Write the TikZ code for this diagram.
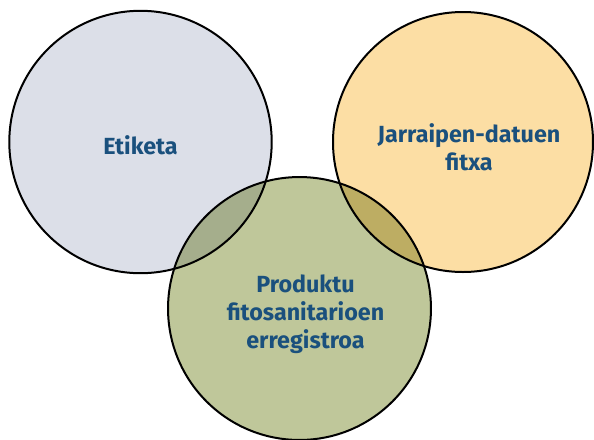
\documentclass[tikz,border=0pt]{standalone}
\usepackage{fontspec}
\setmainfont{Fira Sans}
\definecolor{txtblue}{RGB}{26,80,125}
\definecolor{cgrey}{RGB}{220,223,232}
\definecolor{corange}{RGB}{252,222,164}
\definecolor{cgreen}{RGB}{191,199,154}
\definecolor{cgreygreen}{RGB}{165,174,140}
\definecolor{corangegreen}{RGB}{189,173,99}
\begin{document}
\begin{tikzpicture}[x=0.75pt,y=-0.75pt,
  ring/.style={draw=black,line width=1.5pt},
  lbl/.style={text=txtblue,font=\fontsize{17.5}{21}\selectfont\bfseries,align=center}]
\useasboundingbox (0,0) rectangle (594,440);
\coordinate (cl) at (140.5,142);
\coordinate (cr) at (463,142);
\coordinate (cb) at (299.5,308.5);
\fill[cgrey] (cl) circle[radius=98.4pt];
\fill[corange] (cr) circle[radius=97.5pt];
\fill[cgreen] (cb) circle[radius=98.6pt];
\begin{scope}
  \clip (cl) circle[radius=98.4pt];
  \fill[cgreygreen] (cb) circle[radius=98.6pt];
\end{scope}
\begin{scope}
  \clip (cr) circle[radius=97.5pt];
  \fill[corangegreen] (cb) circle[radius=98.6pt];
\end{scope}
\draw[ring] (cl) circle[radius=98.4pt];
\draw[ring] (cr) circle[radius=97.5pt];
\draw[ring] (cb) circle[radius=98.6pt];
\node[lbl] (etiketa) at (140.5,145.5) {Etiketa};
\node[lbl] (jarraipen) at (469,147) {Jarraipen-datuen\\fitxa};
\node[lbl] (produktu) at (305.5,314) {Produktu\\fitosanitarioen\\erregistroa};
\end{tikzpicture}
\end{document}
